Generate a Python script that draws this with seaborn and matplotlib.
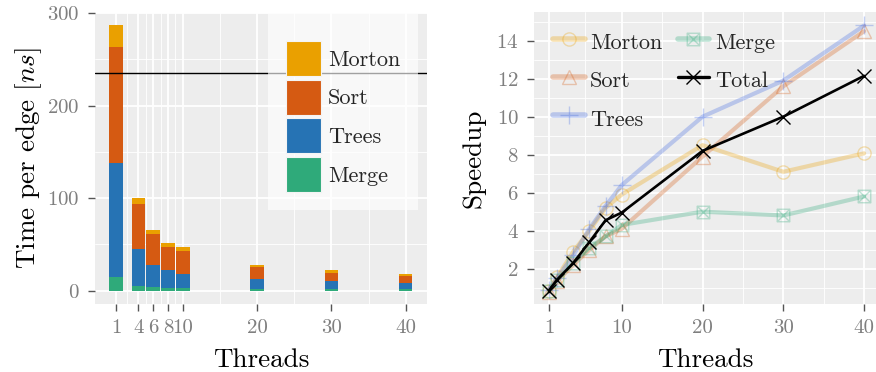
import numpy as np
import matplotlib
matplotlib.use("Agg")
import matplotlib.pyplot as plt
from matplotlib.path import Path
from matplotlib.patches import Patch
import seaborn as sns

# ---- time per edge, broken down by phase (ns) ----
threads_bar = [1, 4, 6, 8, 10, 20, 30, 40]
merge_ns = [14.4, 5.0, 3.6, 3.2, 2.5, 2.2, 1.8, 1.8]
trees_ns = [123.7, 40.3, 24.1, 19.1, 15.8, 10.0, 8.6, 6.5]
sort_ns = [125.2, 48.6, 33.5, 24.8, 24.9, 13.0, 9.0, 7.2]
morton_ns = [23.4, 6.1, 4.6, 4.0, 3.6, 2.5, 2.9, 2.5]
reference_ns = 235

# ---- speedup per phase ----
threads_line = [1, 2, 4, 6, 8, 10, 20, 30, 40]
speedup_morton = [0.80, 1.55, 2.9, 4.0, 5.2, 5.9, 8.5, 7.1, 8.07]
speedup_sort = [0.75, 1.35, 2.2, 3.0, 3.7, 4.1, 7.9, 11.6, 14.5]
speedup_trees = [0.90, 1.50, 2.7, 4.1, 5.3, 6.4, 10.0, 11.9, 14.8]
speedup_merge = [0.80, 1.40, 2.3, 3.1, 3.7, 4.3, 5.0, 4.8, 5.8]
speedup_total = [0.85, 1.42, 2.3, 3.4, 4.55, 4.95, 8.2, 10.0, 12.15]

C_MORTON = "#EAA000"
C_SORT = "#D55A12"
C_TREES = "#2673B4"
C_MERGE = "#2FAA7A"
C_TREES_LINE = "#4169E1"

sns.set_theme(style="darkgrid")
plt.rcParams.update({
    "font.family": ["cmr10", "DejaVu Serif"],
    "mathtext.fontset": "cm",
    "axes.formatter.use_mathtext": True,
    "axes.facecolor": "#EDEDED",
    "grid.color": "white",
    "xtick.color": "#7F7F7F",
    "ytick.color": "#7F7F7F",
    "xtick.labelcolor": "#7F7F7F",
    "ytick.labelcolor": "#7F7F7F",
    "xtick.labelsize": 15,
    "ytick.labelsize": 15,
    "axes.labelsize": 19.5,
    "axes.labelcolor": "black",
})

fig = plt.figure(figsize=(8.76, 3.72), dpi=100)
ax1 = fig.add_axes([95 / 876, 68 / 372, 332 / 876, 291 / 372])
ax2 = fig.add_axes([534 / 876, 68 / 372, 342 / 876, 292 / 372])

for ax in (ax1, ax2):
    ax.set_axisbelow(True)
    for s in ax.spines.values():
        s.set_visible(False)
    ax.grid(which="major", color="white", lw=1.3)
    ax.grid(which="minor", color="white", lw=0.6)
    ax.tick_params(which="major", length=5, width=1.0, color="#555555", pad=6,
                   bottom=True, left=True)
    ax.tick_params(which="minor", length=0)

# ---- left: stacked bars ----
cum_merge = np.array(merge_ns)
cum_trees = cum_merge + np.array(trees_ns)
cum_sort = cum_trees + np.array(sort_ns)
cum_morton = cum_sort + np.array(morton_ns)

for cum, col in [(cum_morton, C_MORTON), (cum_sort, C_SORT),
                 (cum_trees, C_TREES), (cum_merge, C_MERGE)]:
    sns.barplot(x=threads_bar, y=cum, native_scale=True, width=0.9,
                color=col, saturation=1, errorbar=None, linewidth=0, ax=ax1)

ax1.axhline(reference_ns, color="black", lw=1.0, zorder=3)
ax1.set_xlim(-1.83, 42.86)
ax1.set_ylim(-14.3, 299.6)
ax1.set_xticks(threads_bar)
ax1.set_xticklabels([str(t) for t in threads_bar])
ax1.set_xticks([2.5, 5, 7, 9, 15, 25, 35], minor=True)
ax1.set_yticks([0, 100, 200, 300])
ax1.set_yticks([50, 150, 250], minor=True)
ax1.set_xlabel("Threads", labelpad=8)
ax1.set_ylabel("Time per edge [$ns$]", labelpad=2)

bar_handles = [Patch(facecolor=c, edgecolor="#f4f4f4", lw=0.8, label=l)
               for c, l in [(C_MORTON, "Morton"), (C_SORT, "Sort"),
                            (C_TREES, "Trees"), (C_MERGE, "Merge")]]
leg1 = ax1.legend(handles=bar_handles, loc="upper left",
                  bbox_to_anchor=(0.521, 0.9966), fontsize=16,
                  title=" ", title_fontsize=4,
                  handlelength=1.58, handleheight=2.05, labelspacing=0.16,
                  handletextpad=0.32, borderpad=0.8, borderaxespad=0,
                  frameon=True, fancybox=False, framealpha=0.63,
                  facecolor="white", edgecolor="none")
leg1.set_zorder(5)

# ---- right: speedup lines ----
boxed_x = Path([(-1, -1), (1, -1), (1, 1), (-1, 1), (-1, -1),
                (-1, -1), (1, 1), (-1, 1), (1, -1)],
               [Path.MOVETO, Path.LINETO, Path.LINETO, Path.LINETO, Path.CLOSEPOLY,
                Path.MOVETO, Path.LINETO, Path.MOVETO, Path.LINETO])

faint = dict(alpha=0.3, lw=3.0, markerfacecolor="none", markeredgewidth=1.0)
sns.lineplot(x=threads_line, y=speedup_morton, color=C_MORTON, marker="o",
             markersize=9.5, markeredgecolor=C_MORTON, label="Morton", ax=ax2, **faint)
sns.lineplot(x=threads_line, y=speedup_sort, color=C_SORT, marker="^",
             markersize=10.5, markeredgecolor=C_SORT, label="Sort", ax=ax2, **faint)
sns.lineplot(x=threads_line, y=speedup_trees, color=C_TREES_LINE, marker="+",
             markersize=13, markeredgecolor=C_TREES_LINE, label="Trees", ax=ax2, **faint)
sns.lineplot(x=threads_line, y=speedup_merge, color=C_MERGE, marker=boxed_x,
             markersize=9, markeredgecolor=C_MERGE, label="Merge", ax=ax2, **faint)
sns.lineplot(x=threads_line, y=speedup_total, color="black", marker="x",
             markersize=10, markeredgewidth=1.0, markeredgecolor="black",
             lw=1.9, label="Total", ax=ax2)

ax2.set_xlim(-0.86, 41.47)
ax2.set_ylim(0.14, 15.51)
ax2.set_xticks([1, 10, 20, 30, 40])
ax2.set_xticklabels(["1", "10", "20", "30", "40"])
ax2.set_xticks([5.5, 15, 25, 35], minor=True)
ax2.set_yticks([2, 4, 6, 8, 10, 12, 14])
ax2.set_yticks([1, 3, 5, 7, 9, 11, 13, 15], minor=True)
ax2.set_xlabel("Threads", labelpad=8)
ax2.set_ylabel("Speedup", labelpad=8)

leg2 = ax2.legend(loc="upper left", bbox_to_anchor=(0.041, 0.961), ncol=2,
                  fontsize=16, handlelength=1.42, handleheight=1.42,
                  handletextpad=0.25, labelspacing=0.56, columnspacing=0.68,
                  borderpad=0.23, borderaxespad=0, frameon=False)
for h in leg2.get_lines():
    if h.get_color() != "black":
        h.set_linewidth(4)
    else:
        h.set_linewidth(2.4)

fig.savefig("out.png", dpi=100)
